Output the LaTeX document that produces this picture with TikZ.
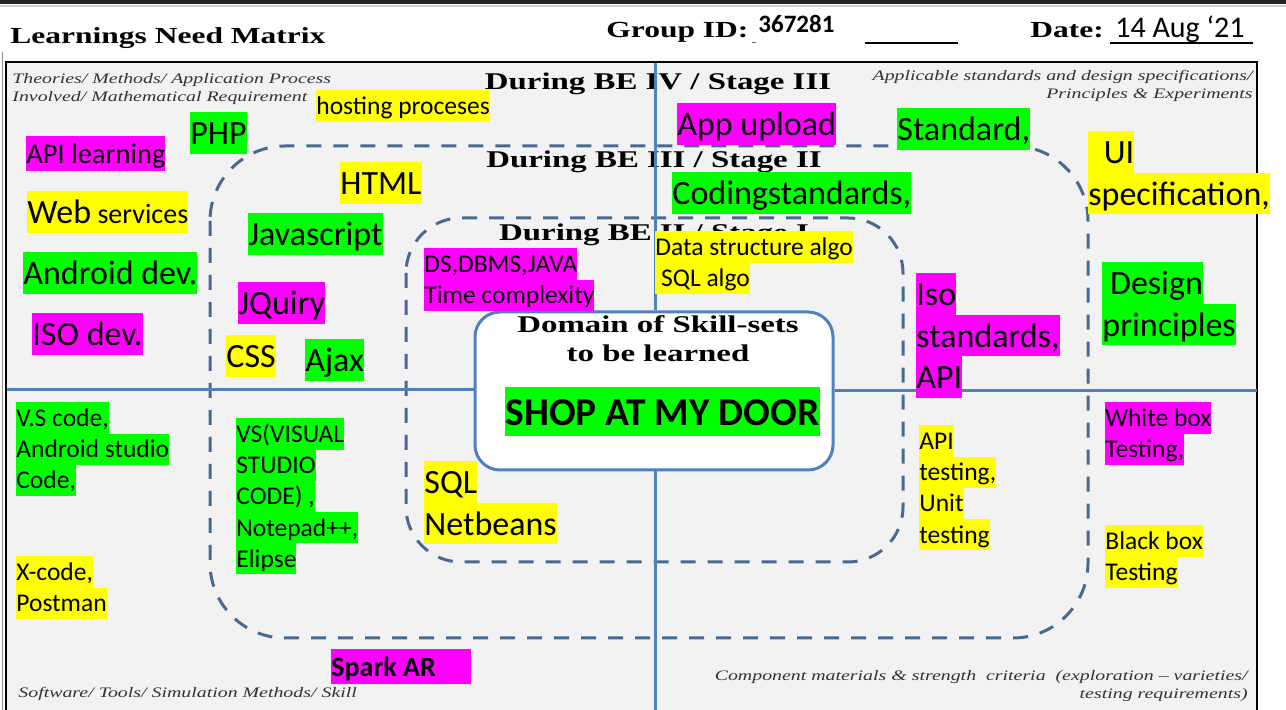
\documentclass[tikz,border=0pt]{standalone}
\usepackage{fontspec}
\usepackage{xcolor}
\usepackage{tikz}

\setmainfont{Carlito}
\newfontfamily\calfont{Carlito}
\newfontfamily\tmsfont[FakeStretch=1.37]{Liberation Serif}

\definecolor{hlyel}{HTML}{FFFF00}
\definecolor{hlmag}{HTML}{FF00FF}
\definecolor{hlgrn}{HTML}{00FF00}
\definecolor{panel}{HTML}{F2F2F2}
\definecolor{divblue}{HTML}{4F81BD}
\definecolor{dashblue}{HTML}{476A94}

% word-style highlight, one box per line
\newcommand{\hstrut}{\rule[-0.269em]{0pt}{1.221em}}
\newcommand{\hlbox}[2]{{\setlength{\fboxsep}{0pt}\colorbox{#1}{\hstrut#2}}}
\newcommand{\hly}[1]{\hlbox{hlyel}{#1}}
\newcommand{\hlm}[1]{\hlbox{hlmag}{#1}}
\newcommand{\hlg}[1]{\hlbox{hlgrn}{#1}}
\newcommand{\bigsz}{\fontsize{17pt}{20.76pt}\selectfont\lineskiplimit=-2pt}
\newcommand{\midsz}{\fontsize{14.25pt}{17.4pt}\selectfont\lineskiplimit=-2pt}
\newcommand{\smlsz}{\fontsize{12.75pt}{15.57pt}\selectfont\lineskiplimit=-2pt}

\begin{document}
\begin{tikzpicture}[x=0.5pt, y=-0.5pt,
  hdr/.style={font=\tmsfont\bfseries\fontsize{11.5pt}{14pt}\selectfont,
              inner sep=0pt, anchor=base west},
  stagelbl/.style={font=\tmsfont\bfseries\fontsize{12pt}{15pt}\selectfont,
                   inner sep=0pt, anchor=base},
  corner/.style={font=\tmsfont\itshape\fontsize{7.25pt}{9pt}\selectfont,
                 text=black!80, inner sep=0pt},
  skill/.style={anchor=north west, inner sep=0pt, align=left,
                font=\calfont\bigsz},
  smallskill/.style={skill, font=\calfont\smlsz},
  divider/.style={draw=divblue, line width=1.5pt},
  stagedash/.style={draw=dashblue, line width=1.5pt, dash pattern=on 7.5pt off 6pt}
]
  \useasboundingbox (0,0) rectangle (1286,710);
  \fill[white] (0,0) rectangle (1286,710);
  \fill[black!87] (0,0) rectangle (1286,4);
  \fill[black!20] (0,5) rectangle (1286,7.5);

  % header line
  \node[hdr] (title) at (10,44) {Learnings Need Matrix};
  \node[hdr] (grouplbl) at (606,38) {Group ID:};
  \node[anchor=base west, inner sep=0pt,
        font=\calfont\bfseries\fontsize{12.5pt}{15pt}\selectfont] (groupid)
    at (758,33) {367281};
  \node[hdr] (datelbl) at (1030,38) {Date:};
  \node[anchor=base west, inner sep=0pt,
        font=\calfont\fontsize{15pt}{18pt}\selectfont] (dateval)
    at (1115,38) {14 Aug ‘21};
  \draw[black!60, line width=0.5pt] (752,43) -- (756,43);
  \draw[line width=0.6pt] (865,43) -- (958,43);
  \draw[line width=0.6pt] (1110,43) -- (1253,43);

  % frame
  \draw[black!45, line width=0.4pt] (2,52) -- (2,712);
  \draw[line width=1.3pt, fill=panel] (6,62) rectangle (1257,730);

  % stage regions
  \draw[stagedash, rounded corners=37.5pt] (210,146) rectangle (1088,638);
  \draw[stagedash, rounded corners=27.5pt] (406,218) rectangle (903,562);

  \node[stagelbl] (stage3) at (658,90) {During BE IV / Stage III};
  \node[stagelbl] (stage2) at (654,168) {During BE III / Stage II};
  \node[stagelbl] (stage1) at (654,241) {During BE II / Stage I};

  % centre box and quadrant lines
  \node[draw=divblue, line width=1.5pt, fill=white, rounded corners=12.5pt,
        minimum width=179pt, minimum height=79pt, inner sep=0pt] (domain)
    at (654,391) {};
  \coordinate (ntop) at (655,63);
  \coordinate (sbot) at (655,712);
  \coordinate (wend) at (7,390);
  \coordinate (eend) at (1257,391);
  \draw[divider] (ntop) -- (ntop |- domain.north);
  \draw[divider] (ntop |- domain.south) -- (sbot);
  \draw[divider] (wend) -- (wend -| domain.west);
  \draw[divider] (eend -| domain.east) -- (eend);

  \node[stagelbl] (domtop) at (658,333) {Domain of Skill-sets};
  \node[stagelbl] (dombot) at (658,362) {to be learned};

  % corner notes
  \node[corner, anchor=north west, align=left] (theory) at (12,73)
    {Theories/ Methods/ Application Process\\Involved/ Mathematical Requirement};
  \node[corner, anchor=north east, align=right] (specs) at (1253,70)
    {Applicable standards and design specifications/\\Principles \& Experiments};
  \node[corner, anchor=base west] (tools) at (18,698)
    {Software/ Tools/ Simulation Methods/ Skill};
  \node[corner, anchor=north east, align=right] (criteria) at (1248,670)
    {Component materials \& strength\ \ criteria\ \ (exploration – varieties/\\testing requirements)};

  % theories / methods
  \node[smallskill] (hosting) at (316,90) {\hly{hosting proceses}};
  \node[skill] (php) at (190,112) {\hlg{PHP}};
  \node[skill, font=\calfont\midsz] (apilearn) at (26,136) {\hlm{API learning}};
  \node[skill] (websvc) at (27,191)
    {\hly{Web{\fontsize{14pt}{17pt}\selectfont\ services}}};
  \node[skill] (android) at (23,252) {\hlg{Android dev.}};
  \node[skill] (isodev) at (32,313) {\hlm{ISO dev.}};
  \node[skill] (html) at (340,162) {\hly{HTML}};
  \node[skill] (jscript) at (248,213) {\hlg{Javascript}};
  \node[skill] (jquery) at (238,282) {\hlm{JQuiry}};
  \node[skill] (css) at (226,335) {\hly{CSS}};
  \node[skill] (ajax) at (305,339) {\hlg{Ajax}};
  \node[smallskill] (dsdbms) at (424,248)
    {\hlm{DS,DBMS,JAVA}\\\hlm{Time complexity}};

  % standards / specifications
  \node[smallskill] (algo) at (655,231)
    {\hly{Data structure algo}\\\hly{\ SQL algo}};
  \node[skill] (upload) at (677,103) {\hlm{App upload}};
  \node[skill] (coding) at (672,172) {\hlg{Codingstandards,}};
  \node[skill] (standard) at (897,108) {\hlg{Standard,}};
  \node[skill] (uispec) at (1088,131) {\hly{\ \ UI}\\\hly{specification,}};
  \node[skill] (isostd) at (916,273) {\hlm{Iso}\\\hlm{standards,}\\\hlm{API}};
  \node[skill] (design) at (1102,262) {\hlg{\ Design}\\\hlg{principles}};

  % software / tools
  \node[smallskill] (vscode) at (16,402)
    {\hlg{V.S code,}\\\hlg{Android studio}\\\hlg{Code,}};
  \node[smallskill] (xcode) at (16,556) {\hly{X-code,}\\\hly{Postman}};
  \node[smallskill] (vstudio) at (236,418)
    {\hlg{VS(VISUAL}\\\hlg{STUDIO}\\\hlg{CODE) ,}\\\hlg{Notepad++,}\\\hlg{Elipse}};
  \node[skill] (netbeans) at (424,461) {\hly{SQL}\\\hly{Netbeans}};
  \node[skill, font=\calfont\bfseries\fontsize{14pt}{17.1pt}\selectfont] (spark)
    at (331,649) {\hlm{\makebox[70pt][l]{Spark AR}}};

  % testing
  \node[smallskill] (apitest) at (919,425)
    {\hly{API}\\\hly{testing,}\\\hly{Unit}\\\hly{testing}};
  \node[smallskill] (whitebox) at (1105,402) {\hlm{White box}\\\hlm{Testing,}};
  \node[smallskill] (blackbox) at (1105,525) {\hly{Black box}\\\hly{Testing}};

  % project
  \node[skill, font=\calfont\bfseries\fontsize{19.75pt}{24.1pt}\selectfont] (project)
    at (505,387) {\hlg{SHOP AT MY DOOR}};
\end{tikzpicture}
\end{document}
